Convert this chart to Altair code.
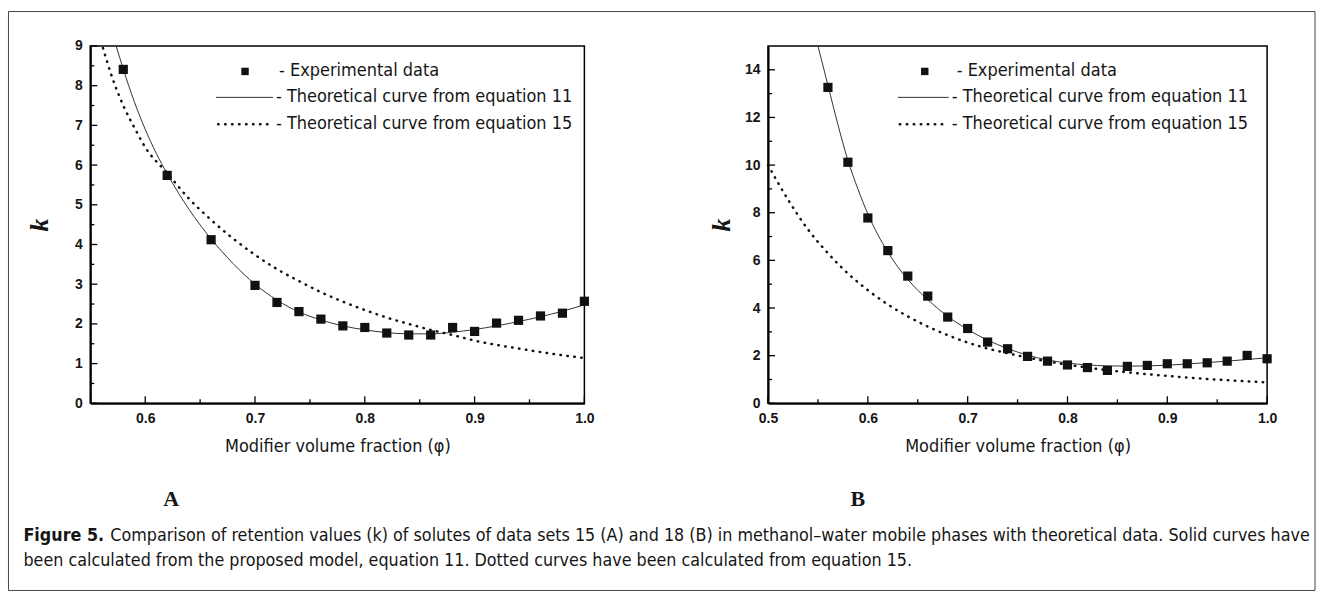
import altair as alt
import pandas as pd

# ---------------- Panel A (data set 15) ----------------
phi_a_exp = [0.58, 0.62, 0.66, 0.70, 0.72, 0.74, 0.76, 0.78, 0.80, 0.82, 0.84,
             0.86, 0.88, 0.90, 0.92, 0.94, 0.96, 0.98, 1.00]
k_a_exp = [8.41, 5.74, 4.12, 2.97, 2.54, 2.31, 2.12, 1.95, 1.91, 1.77, 1.72,
           1.72, 1.91, 1.81, 2.02, 2.09, 2.20, 2.27, 2.57]
phi_a_eq11 = [0.5735, 0.58, 0.59, 0.60, 0.61, 0.62, 0.64, 0.66, 0.68, 0.70, 0.72, 0.74,
              0.76, 0.78, 0.80, 0.82, 0.84, 0.86, 0.88, 0.90, 0.92, 0.94, 0.96, 0.98, 1.00]
k_a_eq11 = [9.0, 8.42, 7.6, 6.9, 6.3, 5.78, 4.88, 4.14, 3.52, 3.0, 2.6, 2.3,
            2.1, 1.95, 1.85, 1.78, 1.75, 1.75, 1.79, 1.86, 1.95, 2.06, 2.18, 2.32, 2.48]
phi_a_eq15 = [0.5615, 0.57, 0.58, 0.59, 0.60, 0.62, 0.64, 0.66, 0.68, 0.70, 0.72, 0.74,
              0.76, 0.78, 0.80, 0.82, 0.84, 0.86, 0.88, 0.90, 0.92, 0.94, 0.96, 0.98, 1.00]
k_a_eq15 = [8.95, 8.2, 7.5, 6.95, 6.45, 5.8, 5.15, 4.62, 4.15, 3.74, 3.38, 3.08,
            2.8, 2.56, 2.35, 2.16, 2.0, 1.85, 1.72, 1.58, 1.47, 1.38, 1.29, 1.21, 1.14]
xa_labels = [0.6, 0.7, 0.8, 0.9, 1.0]
xa_minor = [0.65, 0.75, 0.85, 0.95]
ya_labels = [0, 1, 2, 3, 4, 5, 6, 7, 8, 9]
ya_minor = [0.5, 1.5, 2.5, 3.5, 4.5, 5.5, 6.5, 7.5, 8.5]

# ---------------- Panel B (data set 18) ----------------
phi_b_exp = [0.56, 0.58, 0.60, 0.62, 0.64, 0.66, 0.68, 0.70, 0.72, 0.74, 0.76, 0.78,
             0.80, 0.82, 0.84, 0.86, 0.88, 0.90, 0.92, 0.94, 0.96, 0.98, 1.00]
k_b_exp = [13.26, 10.12, 7.78, 6.41, 5.34, 4.5, 3.62, 3.14, 2.57, 2.29, 1.97, 1.77,
           1.61, 1.5, 1.38, 1.55, 1.59, 1.66, 1.66, 1.7, 1.77, 2.01, 1.87]
phi_b_eq11 = [0.55, 0.56, 0.57, 0.58, 0.59, 0.60, 0.62, 0.64, 0.66, 0.68, 0.70, 0.72, 0.74,
              0.76, 0.78, 0.80, 0.82, 0.84, 0.86, 0.88, 0.90, 0.92, 0.94, 0.96, 0.98, 1.00]
k_b_eq11 = [15.0, 13.35, 11.7, 10.2, 9.0, 7.95, 6.35, 5.2, 4.35, 3.65, 3.1, 2.65, 2.3,
            2.02, 1.82, 1.69, 1.61, 1.57, 1.56, 1.57, 1.6, 1.65, 1.71, 1.77, 1.84, 1.91]
phi_b_eq15 = [0.50, 0.52, 0.54, 0.56, 0.58, 0.60, 0.62, 0.64, 0.66, 0.68, 0.70, 0.72, 0.74,
              0.76, 0.78, 0.80, 0.82, 0.84, 0.86, 0.88, 0.90, 0.92, 0.94, 0.96, 0.98, 1.00]
k_b_eq15 = [10.0, 8.55, 7.3, 6.3, 5.45, 4.75, 4.15, 3.65, 3.22, 2.86, 2.55, 2.3, 2.1,
            1.92, 1.76, 1.62, 1.5, 1.39, 1.3, 1.22, 1.15, 1.08, 1.02, 0.97, 0.92, 0.88]
xb_labels = [0.5, 0.6, 0.7, 0.8, 0.9, 1.0]
xb_minor = [0.55, 0.65, 0.75, 0.85, 0.95]
yb_labels = [0, 2, 4, 6, 8, 10, 12, 14]
yb_minor = [1, 3, 5, 7, 9, 11, 13]

legend_labels = ["- Experimental data",
                 "- Theoretical curve from equation 11",
                 "- Theoretical curve from equation 15"]
x_title = "Modifier volume fraction (φ)"
y_title = "k"
caption_bold = "Figure 5."
caption_line1 = ("Comparison of retention values (k) of solutes of data sets 15 (A) and 18 (B) "
                 "in methanol–water mobile phases with theoretical data. Solid curves have")
caption_line2 = ("been calculated from the proposed model, equation 11. "
                 "Dotted curves have been calculated from equation 15.")

COND = "Liberation Sans Narrow, DejaVu Sans Condensed, Roboto, sans-serif"
SANS = "Liberation Sans, Arial, sans-serif"
SERIF = "Liberation Serif, Times New Roman, serif"
INK = "#151515"
H = 358
DOTS = [0.5, 6.5]


def one(v):
    return pd.DataFrame({"t": [v]})


def panel(exp_x, exp_k, s_x, s_k, d_x, d_k, xdom, ydom, xlab, xmin, ylab, ymin,
          width, ytitle_pad, leg, letter, letter_x, extra=()):
    xs = alt.Scale(domain=xdom, nice=False, zero=False)
    ys = alt.Scale(domain=ydom, nice=False, zero=False)
    xaxis = alt.Axis(values=xlab, format=".1f", title=x_title, ticks=False, tickSize=0,
                     grid=False, domainColor="black", domainWidth=2, labelFlush=False,
                     labelOverlap=False, labelFont=SANS, labelFontSize=14, labelFontWeight="bold",
                     labelColor=INK, labelPadding=8, titleFont=COND, titleFontSize=18,
                     titleFontWeight="normal", titleColor=INK, titlePadding=12)
    yaxis = alt.Axis(values=ylab, format="d", title=y_title, ticks=False, tickSize=0,
                     grid=False, domainColor="black", domainWidth=2, labelOverlap=False,
                     labelFont=SANS, labelFontSize=14, labelFontWeight="bold", labelColor=INK,
                     labelPadding=8, titleFont=SERIF, titleFontSize=26, titleFontStyle="italic",
                     titleFontWeight="bold", titleColor=INK, titlePadding=ytitle_pad)

    def X(f):
        return alt.X(f, type="quantitative", scale=xs, axis=xaxis)

    def Y(f):
        return alt.Y(f, type="quantitative", scale=ys, axis=yaxis)

    layers = []
    # inward ticks
    for vals, ln in ((ylab, 7), (ymin, 4)):
        layers.append(alt.Chart(pd.DataFrame({"v": vals})).mark_rule(color="black", strokeWidth=1.3)
                      .encode(y=Y("v"), x=alt.value(0), x2=alt.value(ln)))
    for vals, ln in ((xlab, 7), (xmin, 4)):
        layers.append(alt.Chart(pd.DataFrame({"v": vals})).mark_rule(color="black", strokeWidth=1.3)
                      .encode(x=X("v"), y=alt.value(H), y2=alt.value(H - ln)))
    # curves
    layers.append(alt.Chart(pd.DataFrame({"phi": s_x, "k": s_k}))
                  .mark_line(color="#333333", strokeWidth=1, interpolate="monotone")
                  .encode(x=X("phi"), y=Y("k")))
    layers.append(alt.Chart(pd.DataFrame({"phi": d_x, "k": d_k}))
                  .mark_line(color="#111111", strokeWidth=2.5, strokeDash=DOTS,
                             strokeCap="round", interpolate="monotone")
                  .encode(x=X("phi"), y=Y("k")))
    layers.append(alt.Chart(pd.DataFrame({"phi": exp_x, "k": exp_k}))
                  .mark_point(shape="square", filled=True, color="#111111", size=85, opacity=1)
                  .encode(x=X("phi"), y=Y("k")))
    # legend
    mx, tx1, lx0, lx1, tx2 = leg
    rows = [25.5, 51.5, 78.5]
    layers.append(alt.Chart(one(0)).mark_point(shape="square", filled=True, color="#111111",
                                               size=55, opacity=1)
                  .encode(x=alt.value(mx), y=alt.value(rows[0])))
    layers.append(alt.Chart(one(0)).mark_rule(color="#333333", strokeWidth=1)
                  .encode(x=alt.value(lx0), x2=alt.value(lx1), y=alt.value(rows[1])))
    layers.append(alt.Chart(one(0)).mark_rule(color="#111111", strokeWidth=2.5,
                                              strokeDash=DOTS, strokeCap="round")
                  .encode(x=alt.value(lx0 + 2), x2=alt.value(lx1), y=alt.value(rows[2])))
    for i, lab in enumerate(legend_labels):
        layers.append(alt.Chart(one(lab)).mark_text(font=COND, fontSize=18, color=INK,
                                                    align="left", baseline="middle")
                      .encode(text="t:N", x=alt.value(tx1 if i == 0 else tx2),
                              y=alt.value(rows[i])))
    # panel letter
    layers.append(alt.Chart(one(letter)).mark_text(font=SERIF, fontSize=22, fontWeight="bold",
                                                   color=INK, baseline="middle")
                  .encode(text="t:N", x=alt.value(letter_x), y=alt.value(453.5)))
    layers.extend(extra)
    return alt.layer(*layers).properties(width=width, height=H)


# Figure frame and caption (drawn relative to panel A's plot origin)
CAP = 17.8
frame = (alt.Chart(one(0)).mark_rect(fillOpacity=0, stroke="#444444", strokeWidth=1)
         .encode(x=alt.value(-82), x2=alt.value(1227), y=alt.value(-34.5), y2=alt.value(545.5)))
cap_b = (alt.Chart(one(caption_bold)).mark_text(font=COND, fontSize=CAP, fontWeight="bold",
                                                color=INK, align="left", baseline="middle")
         .encode(text="t:N", x=alt.value(-67), y=alt.value(490.5)))
cap_1 = (alt.Chart(one(caption_line1)).mark_text(font=COND, fontSize=CAP, color=INK,
                                                 align="left", baseline="middle")
         .encode(text="t:N", x=alt.value(20), y=alt.value(490.5)))
cap_2 = (alt.Chart(one(caption_line2)).mark_text(font=COND, fontSize=CAP, color=INK,
                                                 align="left", baseline="middle")
         .encode(text="t:N", x=alt.value(-67), y=alt.value(516.5)))

panel_a = panel(phi_a_exp, k_a_exp, phi_a_eq11, k_a_eq11, phi_a_eq15, k_a_eq15,
                [0.55, 1.0], [0, 9], xa_labels, xa_minor, ya_labels, ya_minor,
                495, 22, (155, 189, 126, 183, 186), "A", 81,
                extra=(frame, cap_b, cap_1, cap_2))
panel_b = panel(phi_b_exp, k_b_exp, phi_b_eq11, k_b_eq11, phi_b_eq15, k_b_eq15,
                [0.5, 1.0], [0, 15], xb_labels, xb_minor, yb_labels, yb_minor,
                500, 10, (157, 189, 130, 181, 184), "B", 90)

chart = (alt.hconcat(panel_a, panel_b, spacing=184, bounds="flush")
         .properties(padding={"left": 6.5, "top": 9.5, "right": 6, "bottom": 4},
                     background="white")
         .configure_view(stroke="black", strokeWidth=1.5))

chart.save("out.html", embed_options={"renderer": "svg", "actions": False})
